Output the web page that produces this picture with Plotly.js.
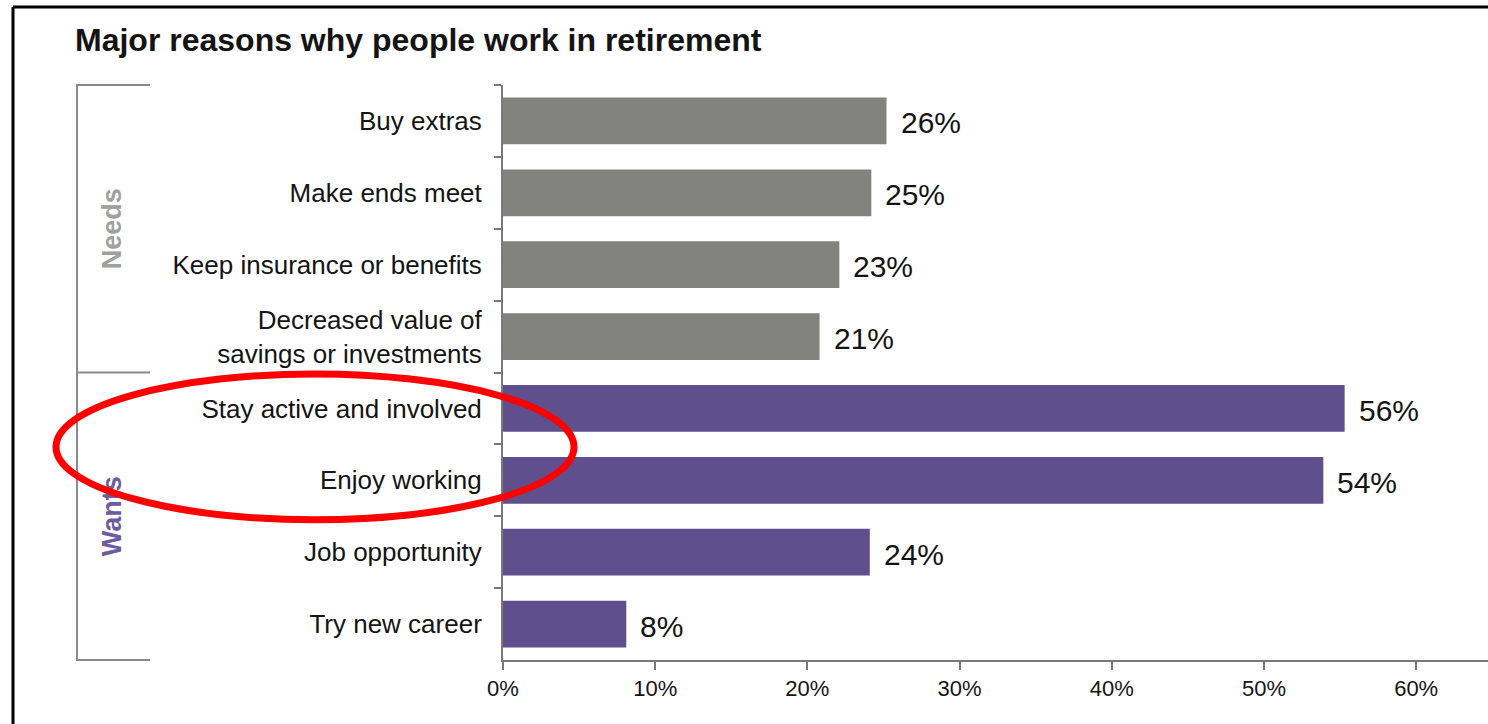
<!DOCTYPE html>
<html>
<head>
<meta charset="utf-8">
<script src="https://cdn.plot.ly/plotly-3.0.1.min.js"></script>
<style>
  html, body { margin: 0; padding: 0; background: #ffffff; }
  #chart { width: 1488px; height: 724px; }
</style>
</head>
<body>
<div id="chart"></div>
<script>
// ---- data ----
const categories = [
  "Buy extras",
  "Make ends meet",
  "Keep insurance or benefits",
  "Decreased value of<br>savings or investments",
  "Stay active and involved",
  "Enjoy working",
  "Job opportunity",
  "Try new career"
];
const barValues = [25.2, 24.2, 22.1, 20.8, 55.3, 53.9, 24.1, 8.1];
const barLabels = ["26%", "25%", "23%", "21%", "56%", "54%", "24%", "8%"];
const groups = ["Needs", "Needs", "Needs", "Needs", "Wants", "Wants", "Wants", "Wants"];
const groupNames = ["Needs", "Wants"];
const xTickValues = [0, 10, 20, 30, 40, 50, 60];
const xTickLabels = ["0%", "10%", "20%", "30%", "40%", "50%", "60%"];

// ---- styles ----
const groupColors = { Needs: "#82827e", Wants: "#5f4f8d" };
const groupTextColors = { Needs: "#a0a0a0", Wants: "#6a5c9e" };
const textColor = "#141414";
const axisColor = "#7a7a7a";
const FONT = "'Liberation Sans', Arial, sans-serif";
const N = categories.length;

// plot-area geometry (pixels) used to place decorations in paper units
const PL = 503, PW = 985;
const px2paper = px => (px - PL) / PW;

const trace = {
  type: "bar",
  orientation: "h",
  y: categories,
  x: barValues,
  width: 0.65,
  marker: { color: groups.map(g => groupColors[g]), line: { width: 0 } },
  hoverinfo: "skip"
};

const annotations = categories.map((c, i) => ({
  x: barValues[i], y: c, xref: "x", yref: "y",
  text: barLabels[i], showarrow: false,
  xanchor: "left", yanchor: "middle", xshift: 12, yshift: -2,
  font: { family: FONT, size: 30, color: textColor }
}));

// category-index -> paper y (axis is reversed, spans -0.5..N-0.5)
const toPaperY = v => 1 - (v + 0.5) / N;
function groupSpan(name) {
  const idx = groups.map((g, i) => g === name ? i : -1).filter(i => i >= 0);
  return [Math.min(...idx) - 0.5, Math.max(...idx) + 0.5];
}

const shapes = [];
const bracket = { color: "#8a8a8a", width: 2 };
// bracket vertical line
shapes.push({ type: "line", xref: "paper", x0: px2paper(77), x1: px2paper(77),
  yref: "paper", y0: 0, y1: 1, line: bracket });
// bracket horizontal lines at group edges
const edges = [-0.5];
groupNames.forEach(g => edges.push(groupSpan(g)[1]));
edges.forEach(e => shapes.push({ type: "line", xref: "paper", x0: px2paper(76), x1: px2paper(150),
  yref: "paper", y0: toPaperY(e), y1: toPaperY(e), line: bracket }));
// group labels as labels on invisible shapes (so the ellipse can cover them)
groupNames.forEach(g => {
  const s = groupSpan(g);
  shapes.push({ type: "rect", xref: "paper", x0: px2paper(89), x1: px2paper(129),
    yref: "paper", y0: toPaperY(s[1]), y1: toPaperY(s[0]), line: { width: 0 }, fillcolor: "rgba(0,0,0,0)",
    label: { text: "<b>" + g + "</b>", textangle: -90, textposition: "middle center",
      font: { family: FONT, size: 27, color: groupTextColors[g] } } });
});
// red ellipse highlight
shapes.push({ type: "circle", xref: "paper", x0: px2paper(56), x1: px2paper(574),
  yref: "paper", y0: toPaperY(5.55), y1: toPaperY(3.52), line: { color: "#ff0000", width: 7 },
  fillcolor: "rgba(0,0,0,0)", layer: "above" });
// outer frame (top and left edges)
shapes.push({ type: "line", xref: "paper", yref: "paper", x0: px2paper(13), x1: 1.01, y0: 1.1357, y1: 1.1357,
  line: { color: "#000000", width: 3 } });
shapes.push({ type: "line", xref: "paper", yref: "paper", x0: px2paper(13), x1: px2paper(13), y0: 1.1357, y1: -0.2,
  line: { color: "#000000", width: 3 } });

const layout = {
  width: 1488, height: 724,
  margin: { l: PL, r: 0, t: 85, b: 64, pad: 0 },
  paper_bgcolor: "#ffffff", plot_bgcolor: "#ffffff",
  showlegend: false,
  title: {
    text: "<b>Major reasons why people work in retirement</b>",
    xref: "container", yref: "container", x: 75 / 1488, xanchor: "left",
    y: 1 - 40 / 724, yanchor: "middle",
    font: { family: FONT, size: 32, color: textColor }
  },
  xaxis: {
    range: [0, 64.72], fixedrange: true,
    tickvals: xTickValues, ticktext: xTickLabels,
    showgrid: false, zeroline: false,
    showline: true, linecolor: axisColor, linewidth: 2,
    ticks: "outside", ticklen: 8, tickwidth: 2, tickcolor: axisColor,
    tickfont: { family: FONT, size: 22, color: textColor }
  },
  yaxis: {
    type: "category", range: [N - 0.5, -0.5], fixedrange: true,
    showgrid: false, zeroline: false,
    showline: true, linecolor: axisColor, linewidth: 2,
    ticks: "outside", tickson: "boundaries", ticklen: 7, tickwidth: 2, tickcolor: axisColor,
    ticklabelstandoff: 14,
    tickfont: { family: FONT, size: 26, color: textColor }
  },
  annotations: annotations,
  shapes: shapes
};

Plotly.newPlot("chart", [trace], layout, { displayModeBar: false, staticPlot: true });
</script>
</body>
</html>
